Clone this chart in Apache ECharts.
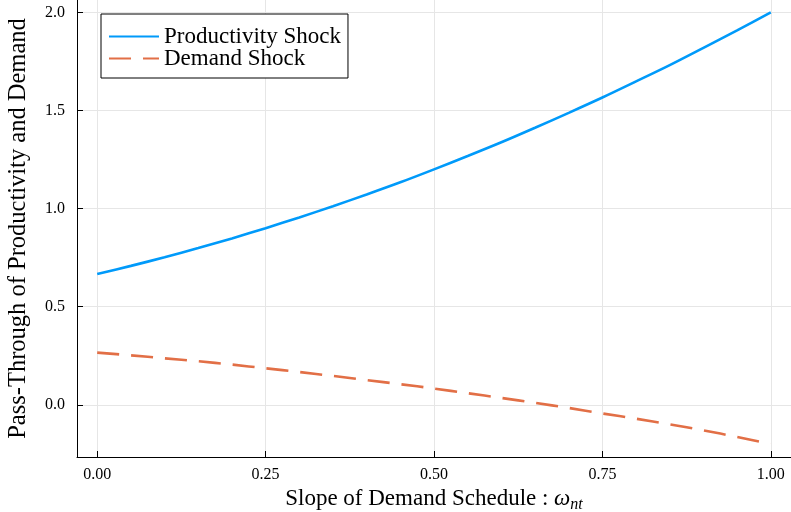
<!DOCTYPE html>
<html>
<head>
<meta charset="utf-8">
<script src="https://cdn.jsdelivr.net/npm/echarts@6/dist/echarts.min.js"></script>
<style>html,body{margin:0;padding:0;background:#fff}#c{width:791px;height:512px}</style>
</head>
<body>
<div id="c"></div>
<script>
const omega = [0, 0.05, 0.1, 0.15, 0.2, 0.25, 0.3, 0.35, 0.4, 0.45, 0.5, 0.55, 0.6, 0.65, 0.7, 0.75, 0.8, 0.85, 0.9, 0.95, 1.0];
const productivityShock = [0.667, 0.708, 0.752, 0.799, 0.848, 0.900, 0.955, 1.012, 1.072, 1.134, 1.200, 1.268, 1.338, 1.412, 1.488, 1.566, 1.648, 1.731, 1.819, 1.908, 2.000];
const demandShock = [0.266, 0.252, 0.237, 0.222, 0.205, 0.186, 0.167, 0.147, 0.126, 0.105, 0.083, 0.059, 0.035, 0.010, -0.016, -0.044, -0.071, -0.100, -0.130, -0.164, -0.200];
const xTicks = [0, 0.25, 0.5, 0.75, 1.0];
const yTicks = [0, 0.5, 1.0, 1.5, 2.0];
const seriesNames = ['Productivity Shock', 'Demand Shock'];

const FONT = '"Liberation Serif", "DejaVu Serif", serif';
const pair = (xs, ys) => xs.map((x, i) => [x, ys[i]]);

const chart = echarts.init(document.getElementById('c'), null, {renderer: 'canvas'});
chart.setOption({
  animation: false,
  backgroundColor: '#fff',
  grid: {left: 77, right: 0, top: 0, bottom: 55, containLabel: false, outerBoundsMode: 'none'},
  legend: {
    left: 101, top: 14, orient: 'vertical',
    data: seriesNames,
    itemWidth: 50, itemHeight: 14, itemGap: -1,
    padding: [11, 7, 8, 7],
    itemStyle: {opacity: 0},
    backgroundColor: '#fff', borderColor: '#000', borderWidth: 1, borderRadius: 0,
    textStyle: {fontFamily: FONT, fontSize: 23, color: '#000'}
  },
  xAxis: {
    type: 'value', min: -0.03, max: 1.03,
    name: 'Slope of Demand Schedule : {w|ω}{sub|nt}',
    nameLocation: 'middle', nameGap: 17,
    nameTextStyle: {
      fontFamily: FONT, fontSize: 23, color: '#000',
      rich: {
        w: {fontFamily: FONT, fontSize: 23, fontStyle: 'italic', color: '#000'},
        sub: {fontFamily: FONT, fontSize: 16, fontStyle: 'italic', color: '#000', padding: [11, 0, 0, 0]}
      }
    },
    axisLine: {show: true, onZero: false, lineStyle: {color: '#000', width: 1}},
    axisTick: {show: true, inside: true, length: 6, customValues: xTicks, lineStyle: {color: '#000'}},
    axisLabel: {customValues: xTicks, margin: 10, fontFamily: FONT, fontSize: 16, color: '#000',
      formatter: v => v.toFixed(2)},
    splitLine: {show: true, lineStyle: {color: '#e6e6e6', width: 1}}
  },
  yAxis: {
    type: 'value', min: -0.266, max: 2.063,
    name: 'Pass-Through of Productivity and Demand',
    nameLocation: 'middle', nameGap: 46,
    nameTextStyle: {fontFamily: FONT, fontSize: 24.5, color: '#000'},
    axisLine: {show: true, onZero: false, lineStyle: {color: '#000', width: 1}},
    axisTick: {show: true, inside: true, length: 6, customValues: yTicks, lineStyle: {color: '#000'}},
    axisLabel: {customValues: yTicks, margin: 12, fontFamily: FONT, fontSize: 16, color: '#000',
      formatter: v => v.toFixed(1)},
    splitLine: {show: true, lineStyle: {color: '#e6e6e6', width: 1}}
  },
  series: [
    {name: seriesNames[0], type: 'line', data: pair(omega, productivityShock),
     symbol: 'none', showSymbol: false, smooth: 0.3,
     lineStyle: {color: '#009AFA', width: 2.6}, itemStyle: {color: '#009AFA'}},
    {name: seriesNames[1], type: 'line', data: pair(omega, demandShock),
     symbol: 'none', showSymbol: false, smooth: 0.3,
     lineStyle: {color: '#E26F46', width: 2.6, type: [22, 12]}, itemStyle: {color: '#E26F46'}}
  ]
});
</script>
</body>
</html>
